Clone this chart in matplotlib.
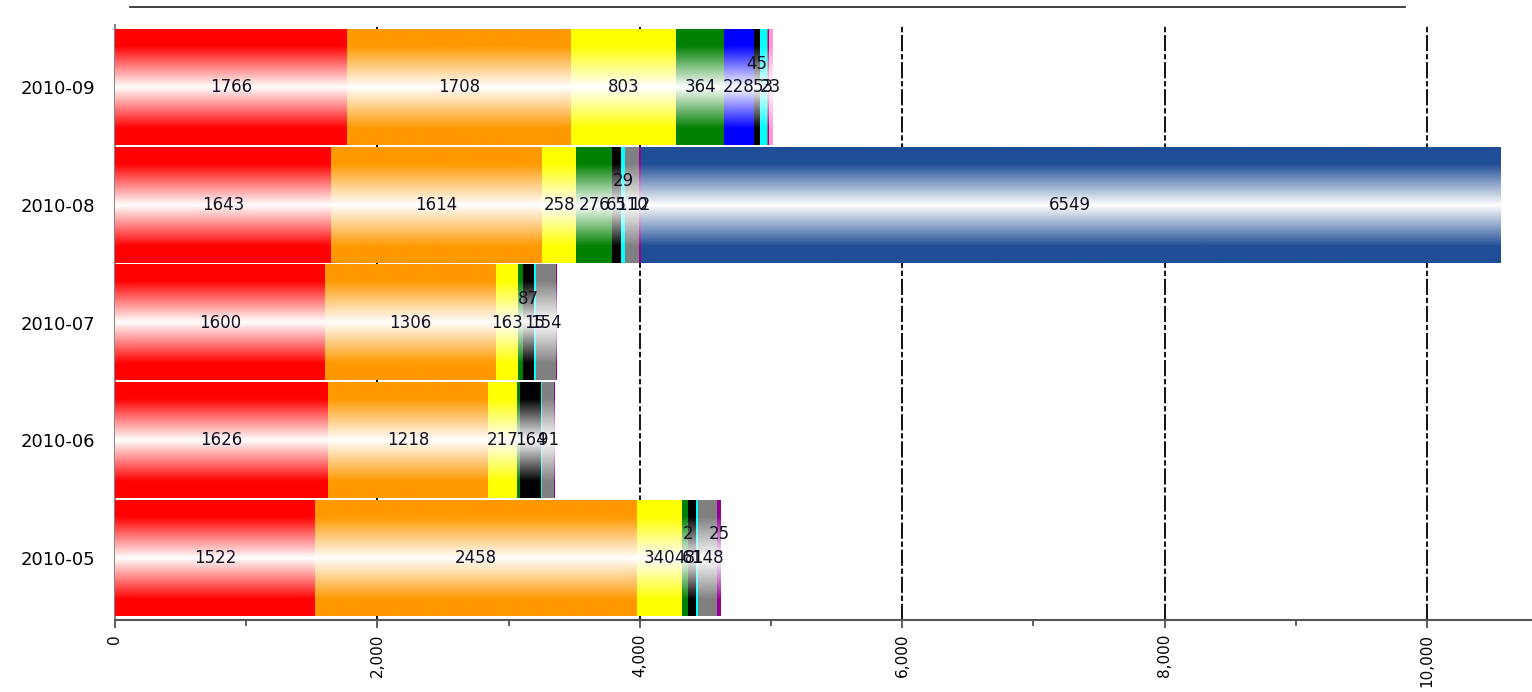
import numpy as np
import matplotlib
matplotlib.use('Agg')
import matplotlib.pyplot as plt
from matplotlib.colors import to_rgb
from matplotlib.lines import Line2D
from matplotlib.ticker import MultipleLocator, FuncFormatter

# months, bottom to top
months = ['2010-05', '2010-06', '2010-07', '2010-08', '2010-09']

# stacked series (0 = not present)
red    = [1522, 1626, 1600, 1643, 1766]
orange = [2458, 1218, 1306, 1614, 1708]
yellow = [340, 217, 163, 258, 803]
green  = [48, 25, 38, 276, 364]
blue   = [2, 0, 0, 0, 228]
black  = [61, 164, 87, 65, 45]
cyan   = [12, 8, 15, 29, 53]
gray   = [148, 91, 154, 110, 12]
purple = [25, 3, 5, 12, 3]
pink   = [0, 0, 0, 0, 23]
steel  = [0, 0, 0, 6549, 0]

names = ['red', 'orange', 'yellow', 'green', 'blue', 'black', 'cyan',
         'gray', 'purple', 'pink', 'steel']
series = [red, orange, yellow, green, blue, black, cyan, gray, purple, pink, steel]
colors = ['#FF0000', '#FF9900', '#FFFF00', '#008000', '#0000FF', '#000000',
          '#00FFFF', '#808080', '#990099', '#FF99CC', '#1F4E96']

# labels the chart does not show / shows lifted above the middle
hidden = {('2010-09', 'gray'), ('2010-09', 'purple'), ('2010-07', 'green'),
          ('2010-07', 'purple'), ('2010-06', 'green'), ('2010-06', 'cyan'),
          ('2010-06', 'purple'), ('2010-05', 'cyan')}
lifted = {('2010-09', 'black'), ('2010-08', 'cyan'), ('2010-07', 'black'),
          ('2010-05', 'blue'), ('2010-05', 'purple')}

plt.rcParams['font.family'] = ['DejaVu Sans']

fig = plt.figure(figsize=(15.32, 6.92), dpi=100)
ax = fig.add_axes([115/1532, 1 - 620/692, 1 - 115/1532, (620 - 25)/692])

xmax = 10800

# vertical gradient: colour at the edges, white in the middle
N = 120
t = np.linspace(0, 1, N)
d = np.abs(t - 0.5) * 2
f = np.clip(d / 0.72, 0, 1)[:, None]

h = 0.985

for i, m in enumerate(months):
    left = 0
    for name, vals, c in zip(names, series, colors):
        v = vals[i]
        if v <= 0:
            continue
        rgb = np.array(to_rgb(c))
        img = (1 - f) * 1.0 + f * rgb[None, :]
        img = img[:, None, :]
        ax.imshow(img, extent=[left, left + v, i - h/2, i + h/2],
                  aspect='auto', interpolation='bilinear', zorder=3)
        if (m, name) not in hidden:
            y = i + 0.2 if (m, name) in lifted else i
            ax.text(left + v/2, y, str(v), ha='center', va='center',
                    fontsize=12, color='#111122', zorder=5)
        left += v

ax.set_xlim(0, xmax)
ax.set_ylim(-0.53, 4.53)

ax.xaxis.set_major_locator(MultipleLocator(2000))
ax.xaxis.set_minor_locator(MultipleLocator(1000))
ax.xaxis.set_major_formatter(FuncFormatter(lambda x, p: f'{int(x):,}'))
ax.tick_params(axis='x', which='major', length=6, width=1.2, color='#444444',
               labelsize=11, labelrotation=90, pad=4)
ax.tick_params(axis='x', which='minor', length=4, width=1.2, color='#444444')
for lab in ax.get_xticklabels():
    lab.set_va('top')

ax.set_yticks(range(len(months)))
ax.set_yticklabels(months, fontsize=13)
ax.tick_params(axis='y', length=0, pad=14)

ax.grid(axis='x', which='major', color='black', lw=1.3,
        linestyle=(0, (9, 1.5, 3, 1.5)), zorder=1)
ax.set_axisbelow(True)

for s in ['top', 'right']:
    ax.spines[s].set_visible(False)
ax.spines['left'].set_color('#888888')
ax.spines['left'].set_linewidth(1.5)
ax.spines['bottom'].set_color('#555555')
ax.spines['bottom'].set_linewidth(1.5)

# line across the top of the figure
fig.add_artist(Line2D([130/1532, 1405/1532], [1 - 7/692, 1 - 7/692],
                      color='#333333', lw=1.3, transform=fig.transFigure))

fig.savefig('out.png', dpi=100)
